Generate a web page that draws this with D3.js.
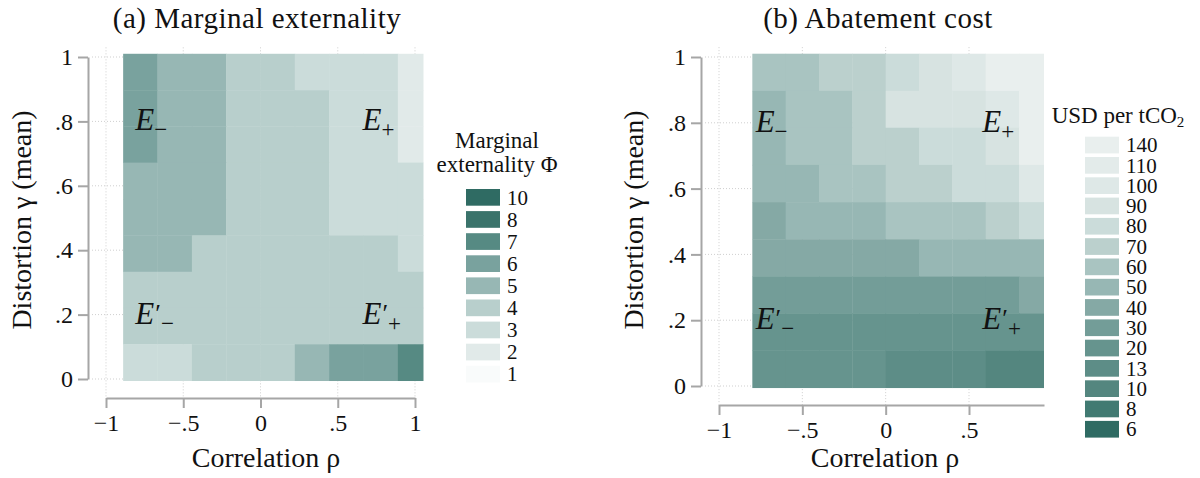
<!DOCTYPE html>
<html>
<head>
<meta charset="utf-8">
<script src="https://cdn.jsdelivr.net/npm/d3@7/dist/d3.min.js"></script>
<style>
  body { margin: 0; background: #fff; }
  text { font-family: "Liberation Serif", "Times New Roman", serif; fill: #111; }
</style>
</head>
<body>
<svg id="chart"></svg>
<script>
// bin edges (correlation rho for each panel, distortion gamma shared)
const rhoEdgesA = [-0.889, -0.667, -0.444, -0.222, 0, 0.222, 0.444, 0.667, 0.889, 1.111];
const rhoEdgesB = [-0.8, -0.6, -0.4, -0.2, 0, 0.2, 0.4, 0.6, 0.8, 1.0];
const gammaEdges = [-0.005, 0.108, 0.221, 0.333, 0.446, 0.559, 0.672, 0.785, 0.897, 1.01];

// (a) marginal externality class, rows from top (gamma high) to bottom
const phiGrid = [
  [6, 5, 5, 4, 4, 3, 3, 3, 2],
  [6, 5, 5, 4, 4, 4, 3, 3, 2],
  [6, 5, 5, 4, 4, 4, 3, 3, 2],
  [5, 5, 5, 4, 4, 4, 3, 3, 3],
  [5, 5, 5, 4, 4, 4, 3, 3, 3],
  [5, 5, 4, 4, 4, 4, 4, 4, 3],
  [4, 4, 4, 4, 4, 4, 4, 4, 4],
  [4, 4, 4, 4, 4, 4, 4, 4, 4],
  [3, 3, 4, 4, 4, 5, 6, 6, 7]
];
// (b) abatement cost class, rows from top to bottom
const costGrid = [
  [60, 60, 70, 70, 80, 90, 100, 140, 140],
  [50, 60, 60, 70, 90, 90, 90, 100, 140],
  [50, 60, 60, 70, 70, 80, 80, 90, 140],
  [50, 50, 60, 60, 70, 70, 80, 80, 100],
  [40, 50, 50, 50, 60, 60, 60, 70, 80],
  [40, 40, 40, 40, 40, 50, 50, 50, 50],
  [30, 30, 30, 30, 30, 30, 30, 30, 40],
  [20, 20, 20, 20, 20, 20, 20, 20, 20],
  [20, 20, 20, 20, 13, 13, 13, 10, 10]
];

const phiClasses = [10, 8, 7, 6, 5, 4, 3, 2, 1];
const costClasses = [140, 110, 100, 90, 80, 70, 60, 50, 40, 30, 20, 13, 10, 8, 6];
const phiColors = ["#2f6b63", "#3a736b", "#568a83", "#79a29e", "#97b7b4", "#b8cfcc", "#cbdcda", "#e1eae9", "#f9fbfb"];
const costColors = ["#e9efee", "#e3ebea", "#dee8e7", "#d7e3e1", "#cbdcda", "#bbd0cd", "#a9c4c1", "#97b7b4",
                    "#85a9a5", "#739d98", "#66948e", "#5d8d87", "#54867f", "#417a72", "#2f6b63"];

const yTicks = [0, 0.2, 0.4, 0.6, 0.8, 1];
const yTickLabels = ["0", ".2", ".4", ".6", ".8", "1"];
const xTicks = [-1, -0.5, 0, 0.5, 1];
const xTickLabels = ["\u22121", "\u2212.5", "0", ".5", "1"];

const width = 1200, height = 478;
const svg = d3.select("#chart").attr("width", width).attr("height", height);

const panels = [
  {
    title: "(a) Marginal externality", grid: phiGrid, rhoEdges: rhoEdgesA,
    color: d3.scaleOrdinal(phiClasses, phiColors),
    x: d3.scaleLinear().domain([-1, 1]).range([106, 415]),
    y: d3.scaleLinear().domain([0, 1]).range([379, 57]),
    rhoMin: -1.09, rhoMax: 1.055, xAxisY: 398, yAxisX: 88,
    titleX: 257, xTitleX: 266, yTitleX: 31,
    labelRho: [-0.81, 0.66],
    legend: { title: ["Marginal", "externality \u03A6"], titleX: 497, titleY: [148, 172],
              classes: phiClasses, x: 466, top: 189, step: 22.1 }
  },
  {
    title: "(b) Abatement cost", grid: costGrid, rhoEdges: rhoEdgesB,
    color: d3.scaleOrdinal(costClasses, costColors),
    x: d3.scaleLinear().domain([-1, 0.5]).range([719, 969]),
    y: d3.scaleLinear().domain([0, 1]).range([386, 57]),
    rhoMin: -1.096, rhoMax: 0.95, xAxisY: 405, yAxisX: 701,
    titleX: 878, xTitleX: 885, yTitleX: 643,
    labelRho: [-0.78, 0.58],
    legend: { title: ["USD per tCO"], sub: "2", titleX: 1118, titleY: [123],
              classes: costClasses, x: 1085, top: 136.7, step: 20.3 }
  }
];

panels.forEach(function(p, pi) {
  const g = svg.append("g");
  const xMax = Math.min(1, p.rhoMax);
  const gridTop = p.y(1.03), gridBottom = p.xAxisY;

  // dotted gridlines under the heatmap
  g.selectAll(".vgrid").data(xTicks.filter(d => d <= p.rhoMax)).enter().append("line")
    .attr("x1", d => p.x(d)).attr("x2", d => p.x(d))
    .attr("y1", gridTop).attr("y2", gridBottom)
    .attr("stroke", "#cfcfcf").attr("stroke-width", 1).attr("stroke-dasharray", "1,2");
  g.selectAll(".hgrid").data(yTicks).enter().append("line")
    .attr("x1", p.yAxisX + 4).attr("x2", p.x(p.rhoMax))
    .attr("y1", d => p.y(d)).attr("y2", d => p.y(d))
    .attr("stroke", "#cfcfcf").attr("stroke-width", 1).attr("stroke-dasharray", "1,2");

  // heatmap cells, clipped to the plot region
  const clipId = "clip" + pi;
  svg.append("clipPath").attr("id", clipId).append("rect")
    .attr("x", p.x(p.rhoMin)).attr("width", p.x(p.rhoMax) - p.x(p.rhoMin))
    .attr("y", 0).attr("height", height);
  const cells = [];
  p.grid.forEach(function(row, r) {
    const gi = 8 - r;
    row.forEach(function(v, c) {
      cells.push({ v: v, r0: p.rhoEdges[c], r1: p.rhoEdges[c + 1], g0: gammaEdges[gi], g1: gammaEdges[gi + 1] });
    });
  });
  g.append("g").attr("clip-path", "url(#" + clipId + ")")
    .selectAll("rect").data(cells).enter().append("rect")
    .attr("x", d => p.x(d.r0))
    .attr("y", d => p.y(d.g1))
    .attr("width", d => p.x(d.r1) - p.x(d.r0) + 0.4)
    .attr("height", d => p.y(d.g0) - p.y(d.g1) + 0.4)
    .attr("fill", d => p.color(d.v));

  // axes
  const yAxis = d3.axisLeft(p.y).tickValues(yTicks)
    .tickFormat((d, i) => yTickLabels[i]).tickSize(10).tickSizeOuter(0).tickPadding(5);
  const ya = g.append("g").attr("transform", "translate(" + p.yAxisX + ",0)").call(yAxis);
  const xs = p.x.copy().domain([-1, xMax]).range([p.x(-1), p.x(xMax)]);
  const xAxis = d3.axisBottom(xs).tickValues(xTicks.filter(d => d <= xMax))
    .tickFormat(d => xTickLabels[xTicks.indexOf(d)]).tickSize(10).tickSizeOuter(0).tickPadding(6);
  const xa = g.append("g").attr("transform", "translate(0," + p.xAxisY + ")").call(xAxis);
  [ya, xa].forEach(function(a) {
    a.attr("font-family", null).attr("font-size", null);
    a.select(".domain").attr("stroke", "#a6a6a6").attr("stroke-width", 2);
    a.selectAll(".tick line").attr("stroke", "#a6a6a6").attr("stroke-width", 2);
    a.selectAll(".tick text").style("font-family", "'Liberation Serif', serif").style("font-size", "24px").attr("fill", "#111");
  });

  // titles
  g.append("text").attr("x", p.titleX).attr("y", 28).attr("text-anchor", "middle")
    .style("font-size", "29px").style("letter-spacing", "0.5px").text(p.title);
  g.append("text").attr("x", p.xTitleX).attr("y", 467).attr("text-anchor", "middle")
    .style("font-size", "28px").text("Correlation \u03C1");
  g.append("text").attr("transform", "translate(" + p.yTitleX + ",220) rotate(-90)")
    .attr("text-anchor", "middle").style("font-size", "28px").text("Distortion \u03B3 (mean)");

  // equilibrium labels
  const labs = [
    { rho: p.labelRho[0], gam: 0.8, prime: false, sub: "\u2212" },
    { rho: p.labelRho[1], gam: 0.8, prime: false, sub: "+" },
    { rho: p.labelRho[0], gam: 0.2, prime: true, sub: "\u2212" },
    { rho: p.labelRho[1], gam: 0.2, prime: true, sub: "+" }
  ];
  labs.forEach(function(l) {
    const t = g.append("text").attr("x", p.x(l.rho)).attr("y", p.y(l.gam) + 9)
      .style("font-size", "31px");
    t.append("tspan").style("font-style", "italic").text("E");
    if (l.prime) t.append("tspan").attr("dx", 1).attr("dy", -2).style("font-size", "26px").text("\u2032");
    t.append("tspan").attr("dy", l.prime ? 9 : 7)
      .style("font-size", "23px").text(l.sub);
  });

  // legend
  const L = p.legend;
  L.title.forEach(function(s, i) {
    const tt = g.append("text").attr("x", L.titleX).attr("y", L.titleY[i]).attr("text-anchor", "middle")
      .style("font-size", "23px").text(s);
    if (L.sub) tt.append("tspan").attr("dy", 4).style("font-size", "15px").text(L.sub);
  });
  const items = g.selectAll(".leg").data(L.classes).enter().append("g")
    .attr("transform", (d, i) => "translate(" + L.x + "," + (L.top + i * L.step) + ")");
  items.append("rect").attr("width", 34).attr("height", 16.7).attr("fill", d => p.color(d));
  items.append("text").attr("x", 41).attr("y", 15.5).style("font-size", "21px").text(d => d);
});
</script>
</body>
</html>
